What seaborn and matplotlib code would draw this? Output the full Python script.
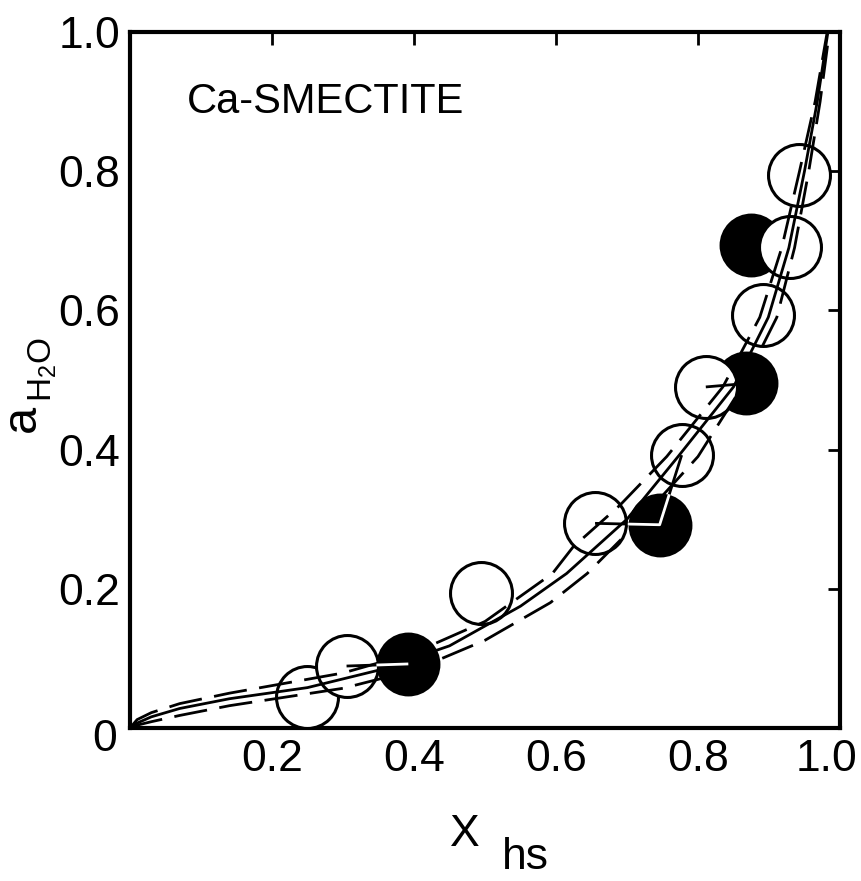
import matplotlib
matplotlib.use("Agg")
import matplotlib.pyplot as plt
import matplotlib.transforms as mtransforms
from matplotlib.patches import Ellipse
import numpy as np
import seaborn as sns

# Model isotherms: water activity vs. fraction of hydrated sites
solid_x = [0, 0.01, 0.03, 0.07, 0.14, 0.25, 0.35, 0.45, 0.55, 0.615, 0.70, 0.772, 0.85, 0.899, 0.928, 0.95, 0.968, 0.983]
solid_y = [0, 0.007, 0.016, 0.028, 0.042, 0.058, 0.083, 0.118, 0.175, 0.222, 0.30, 0.39, 0.49, 0.59, 0.69, 0.80, 0.90, 1.0]

upper_x = [0, 0.01, 0.03, 0.07, 0.14, 0.30, 0.40, 0.50, 0.595, 0.624, 0.69, 0.756, 0.835, 0.887, 0.918, 0.943, 0.965, 0.982]
upper_y = [0, 0.012, 0.022, 0.035, 0.050, 0.079, 0.108, 0.153, 0.222, 0.26, 0.32, 0.39, 0.49, 0.59, 0.69, 0.80, 0.90, 1.0]

lower_x = [0, 0.01, 0.03, 0.07, 0.14, 0.30, 0.40, 0.50, 0.592, 0.644, 0.72, 0.80, 0.862, 0.911, 0.936, 0.956, 0.972, 0.985]
lower_y = [0, 0.004, 0.009, 0.018, 0.032, 0.057, 0.083, 0.126, 0.180, 0.222, 0.30, 0.39, 0.49, 0.59, 0.69, 0.80, 0.90, 1.0]

# Measurements (open = adsorption, filled = desorption)
open_x = [0.249, 0.305, 0.495, 0.655, 0.777, 0.811, 0.892, 0.930, 0.942]
open_y = [0.045, 0.089, 0.194, 0.294, 0.392, 0.490, 0.593, 0.691, 0.795]
filled_x = [0.392, 0.746, 0.868, 0.875]
filled_y = [0.092, 0.292, 0.495, 0.694]

# Tie lines between paired measurements
tie1_x = [0.305, 0.392]
tie1_y = [0.089, 0.092]
tie2_x = [0.655, 0.746, 0.777]
tie2_y = [0.294, 0.292, 0.392]
tie3_x = [0.811, 0.868]
tie3_y = [0.490, 0.495]

x_ticks = [0.2, 0.4, 0.6, 0.8, 1.0]
x_labels = ["0.2", "0.4", "0.6", "0.8", "1.0"]
y_ticks = [0.2, 0.4, 0.6, 0.8, 1.0]
y_labels = ["0.2", "0.4", "0.6", "0.8", "1.0"]

sns.set_style("white")
plt.rcParams["font.family"] = ["Liberation Sans", "DejaVu Sans"]
plt.rcParams["mathtext.fontset"] = "custom"
plt.rcParams["mathtext.rm"] = "Liberation Sans"
plt.rcParams["mathtext.it"] = "Liberation Sans"
for key in ["text.color", "axes.labelcolor", "xtick.color", "ytick.color",
            "axes.edgecolor"]:
    plt.rcParams[key] = "black"

FS = 32
fig = plt.figure(figsize=(8.61, 8.81), dpi=100)
ax_rect = [0.151, 0.1737, 0.8246, 0.790]
ax = fig.add_axes(ax_rect)
ax.set_xlim(0, 1)
ax.set_ylim(0, 1)

# curves
sns.lineplot(x=solid_x, y=solid_y, estimator=None, sort=False, color="black",
             lw=2.0, ax=ax, zorder=4)
for cx, cy in [(upper_x, upper_y), (lower_x, lower_y)]:
    sns.lineplot(x=cx, y=cy, estimator=None, sort=False, color="black",
                 lw=2.0, linestyle=(0, (12, 4.5)), ax=ax, zorder=4)

# points
s_filled = 46.0 ** 2
s_open = 44.6 ** 2
sns.scatterplot(x=filled_x, y=filled_y, s=s_filled, color="black",
                edgecolor="black", linewidth=0, ax=ax, zorder=2)
sns.scatterplot(x=open_x, y=open_y, s=s_open, color="white",
                edgecolor="black", linewidth=2.2, ax=ax, zorder=3)

# tie lines: black over the paper, white where they cross a filled disc
fig_w_px = fig.get_figwidth() * fig.dpi
fig_h_px = fig.get_figheight() * fig.dpi
r_px = np.sqrt(s_filled) / 2 * fig.dpi / 72
rx = r_px / (ax_rect[2] * fig_w_px)
ry = r_px / (ax_rect[3] * fig_h_px)
for tx, ty in [(tie1_x, tie1_y), (tie2_x, tie2_y), (tie3_x, tie3_y)]:
    ax.plot(tx, ty, color="black", lw=2.0, zorder=4, solid_capstyle="butt")
for tx, ty in [(tie1_x, tie1_y), (tie2_x, tie2_y)]:
    for fx, fy in zip(filled_x, filled_y):
        if fx in tx:
            clip = Ellipse((fx, fy), 2 * rx, 2 * ry, transform=ax.transData)
            ln, = ax.plot(tx, ty, color="white", lw=2.0, zorder=5,
                          solid_capstyle="butt")
            ln.set_clip_path(clip)

# axes frame and ticks
for sp in ax.spines.values():
    sp.set_linewidth(3)
    sp.set_color("black")
ax.set_xticks(x_ticks)
ax.set_xticklabels(x_labels)
ax.set_yticks(y_ticks)
ax.set_yticklabels(y_labels)
ax.tick_params(direction="in", length=9, width=2, top=True, right=True,
               labelsize=FS, colors="black")
ax.tick_params(axis="x", pad=8)
ax.tick_params(axis="y", pad=7)
# keep the last x label inside the canvas
last = ax.get_xticklabels()[-1]
last.set_transform(last.get_transform() +
                   mtransforms.ScaledTranslation(-13 / 100, 0, fig.dpi_scale_trans))
ax.annotate("0", xy=(0, 0), xycoords="axes fraction", xytext=(-9.4, 6.5),
            textcoords="offset points", ha="right", va="top", fontsize=FS)

# labels
ax.set_ylabel("a", fontsize=35)
ax.yaxis.set_label_coords(-0.12, 0.445)
ax.text(-0.11, 0.468, r"$\mathregular{H_2O}$", fontsize=24, rotation=90,
        rotation_mode="anchor", ha="left", va="baseline",
        transform=ax.transAxes)
ax.set_xlabel("X", fontsize=FS)
ax.xaxis.set_label_coords(0.472, -0.1236)
ax.annotate("hs", xy=(1, 1), xycoords=ax.xaxis.label, xytext=(16, -16.5),
            textcoords="offset points", ha="left", va="top", fontsize=FS)

ax.text(0.08, 0.90, "Ca-SMECTITE", fontsize=30, ha="left", va="center",
        transform=ax.transData)

fig.savefig("out.png", dpi=100, facecolor="white")
